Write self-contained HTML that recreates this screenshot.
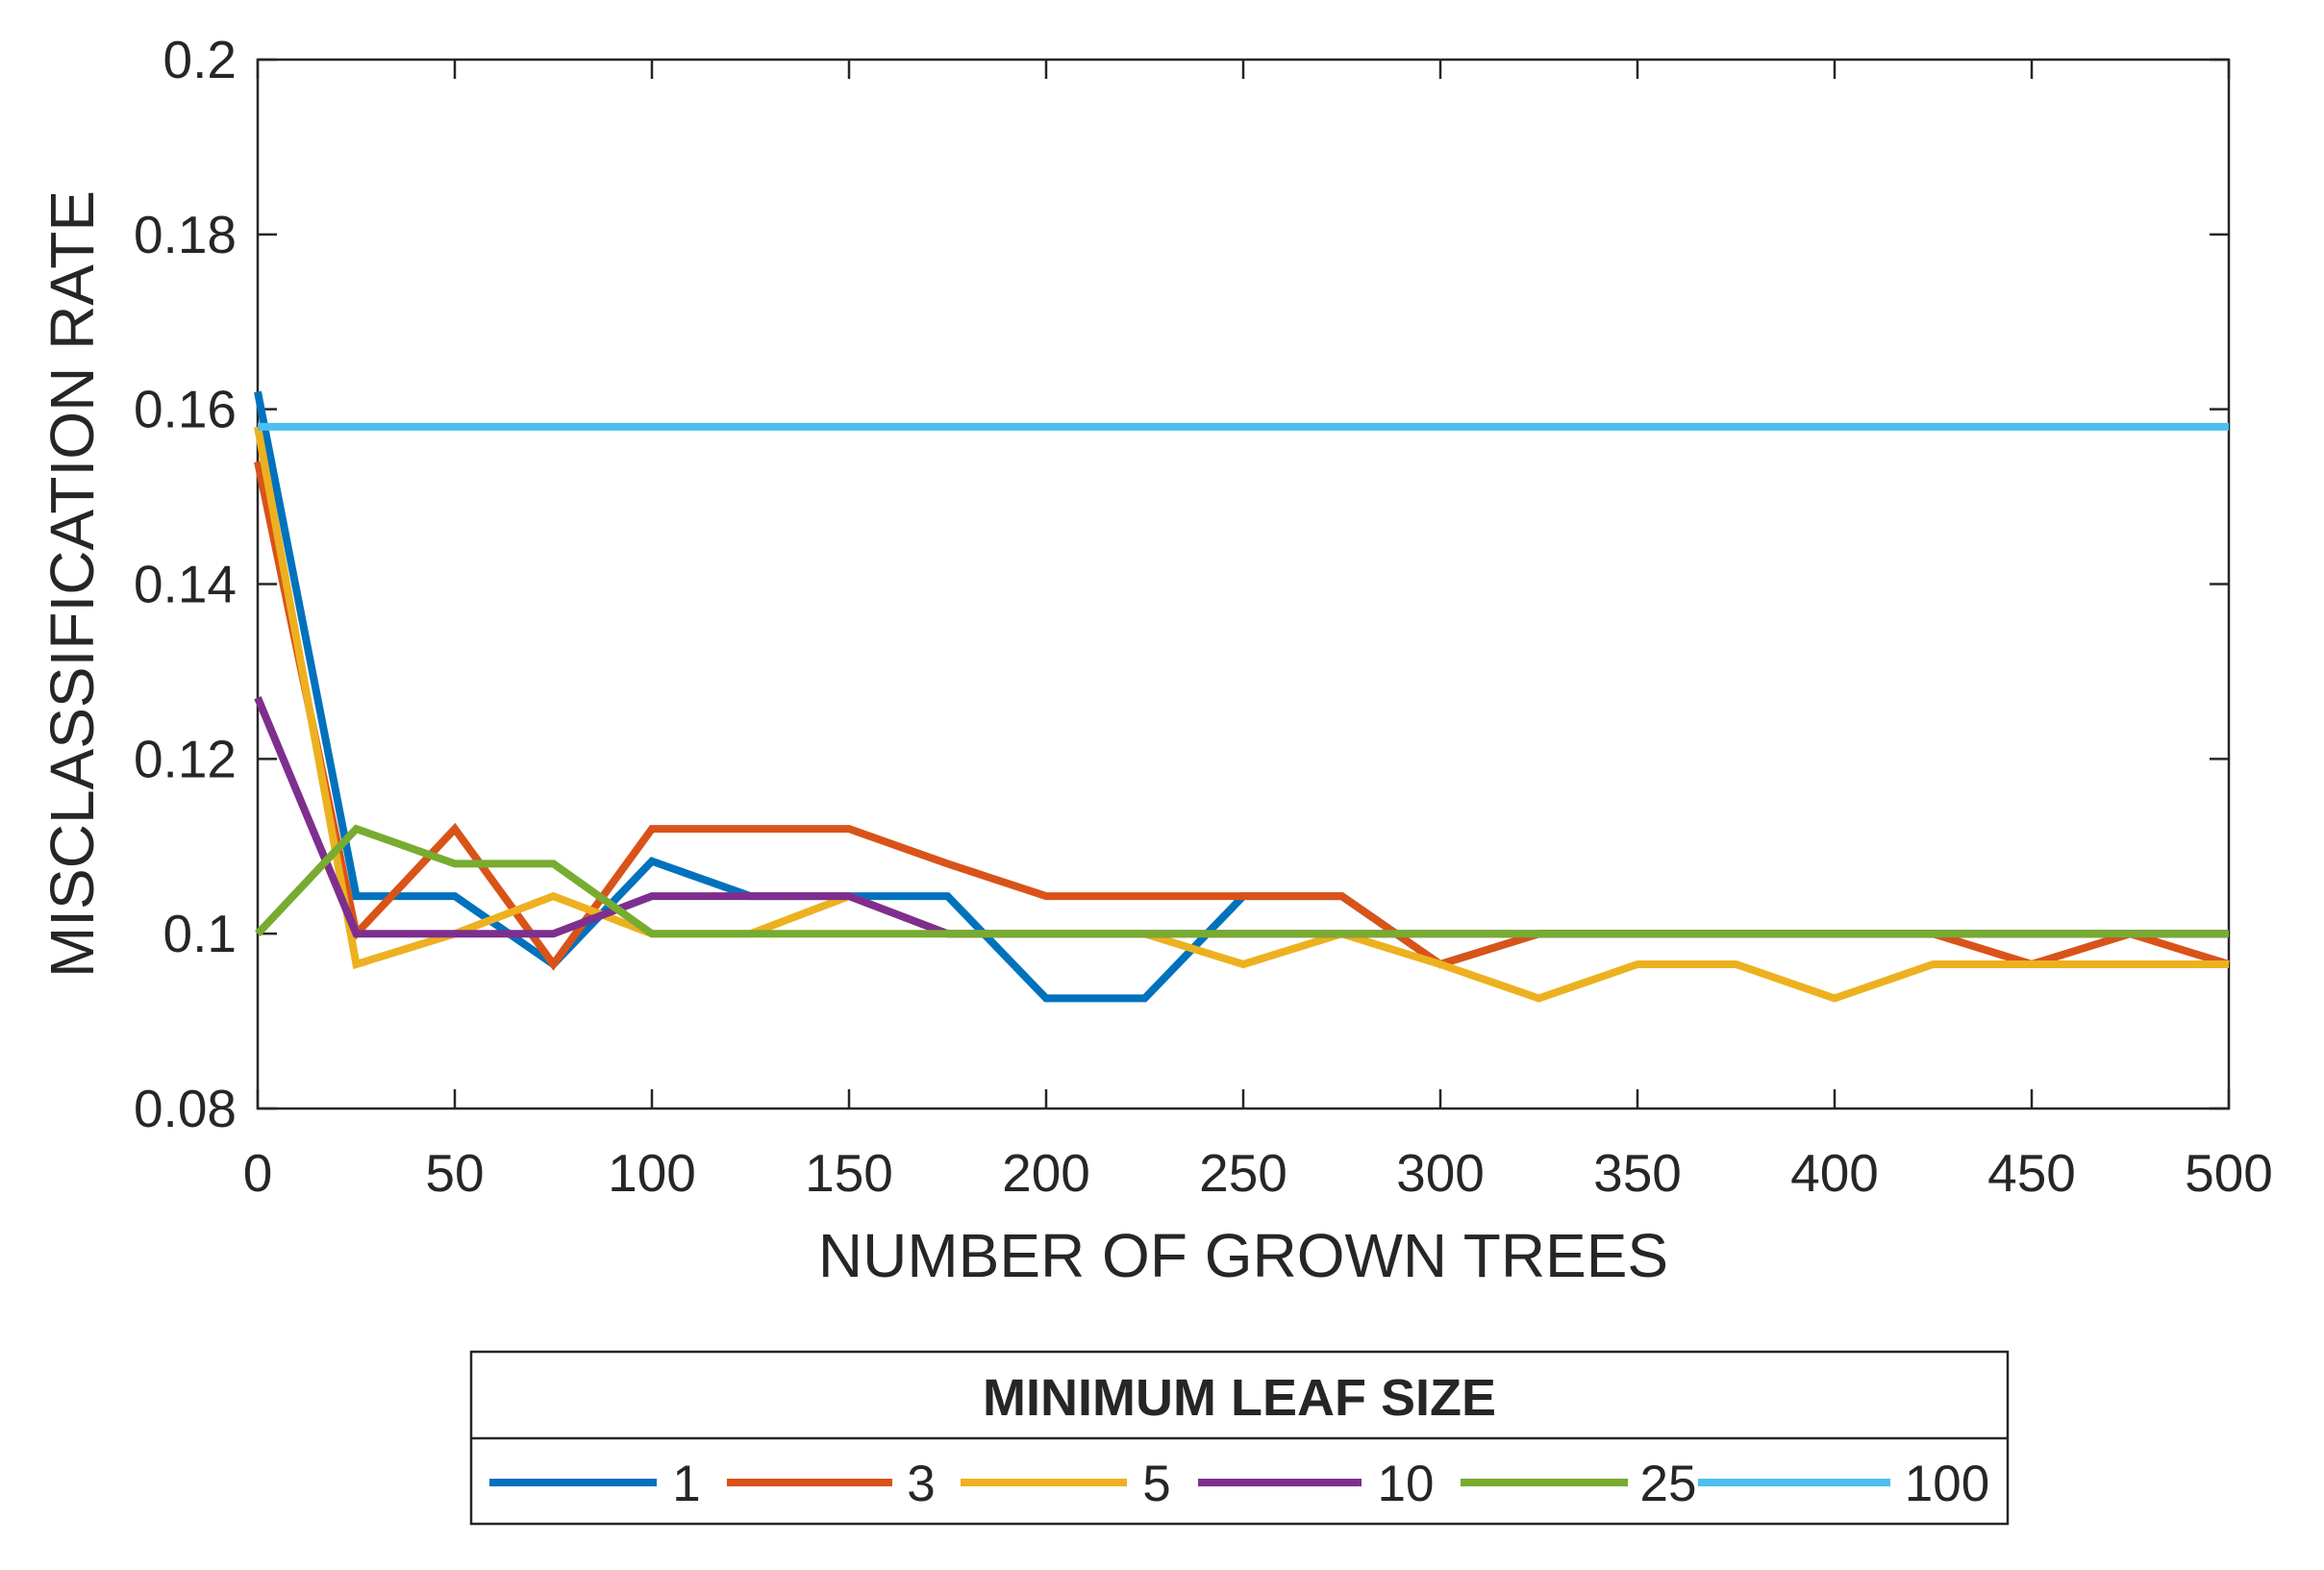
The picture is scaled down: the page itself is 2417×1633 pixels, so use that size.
<!DOCTYPE html>
<html><head><meta charset="utf-8"><style>
html,body{margin:0;padding:0;background:#fff}
svg{display:block}
text{font-family:"Liberation Sans",sans-serif;fill:#262626}
</style></head><body>
<svg id="chart" width="2417" height="1633" viewBox="0 0 2417 1633"></svg>
<script>
const xValues=[0,25,50,75,100,125,150,175,200,225,250,275,300,325,350,375,400,425,450,475,500];
const leaf1=[0.162,0.1043,0.1043,0.0965,0.1083,0.1043,0.1043,0.1043,0.0926,0.0926,0.1043,0.1043,0.0965,0.1,0.1,0.1,0.1,0.1,0.1,0.1,0.1];
const leaf3=[0.154,0.1,0.112,0.0965,0.112,0.112,0.112,0.108,0.1043,0.1043,0.1043,0.1043,0.0965,0.1,0.1,0.1,0.1,0.1,0.0965,0.1,0.0965];
const leaf5=[0.158,0.0965,0.1,0.1043,0.1,0.1,0.1043,0.1,0.1,0.1,0.0965,0.1,0.0965,0.0926,0.0965,0.0965,0.0926,0.0965,0.0965,0.0965,0.0965];
const leaf10=[0.127,0.1,0.1,0.1,0.1043,0.1043,0.1043,0.1,0.1,0.1,0.1,0.1,0.1,0.1,0.1,0.1,0.1,0.1,0.1,0.1,0.1];
const leaf25=[0.1,0.112,0.108,0.108,0.1,0.1,0.1,0.1,0.1,0.1,0.1,0.1,0.1,0.1,0.1,0.1,0.1,0.1,0.1,0.1,0.1];
const leaf100=[0.158,0.158,0.158,0.158,0.158,0.158,0.158,0.158,0.158,0.158,0.158,0.158,0.158,0.158,0.158,0.158,0.158,0.158,0.158,0.158,0.158];
const seriesNames=["1","3","5","10","25","100"];
const xTicks=[0,50,100,150,200,250,300,350,400,450,500];
const yTicks=[0.08,0.1,0.12,0.14,0.16,0.18,0.2];
const yTickLabels=["0.08","0.1","0.12","0.14","0.16","0.18","0.2"];

const NS="http://www.w3.org/2000/svg";
const svg=document.getElementById('chart');
const L=268,R=2318,T=62,B=1153;
const xs=v=>L+(v-0)/(500-0)*(R-L);
const ys=v=>B-(v-0.08)/(0.2-0.08)*(B-T);
function mk(tag,attrs,parent){const e=document.createElementNS(NS,tag);for(const k in attrs)e.setAttribute(k,attrs[k]);(parent||svg).appendChild(e);return e;}
const colors=["#0072BD","#D95319","#EDB120","#7E2F8E","#77AC30","#4DBEEE"];
const series=[leaf1,leaf3,leaf5,leaf10,leaf25,leaf100];

const box=mk('rect',{x:L,y:T,width:R-L,height:B-T,fill:'none',stroke:'#262626','stroke-width':2.5});



xTicks.forEach(v=>{
  const x=xs(v);
  mk('line',{x1:x,y1:B,x2:x,y2:B-20,stroke:'#262626','stroke-width':2.5});
  mk('line',{x1:x,y1:T,x2:x,y2:T+20,stroke:'#262626','stroke-width':2.5});
  const t=mk('text',{x:x,y:B+86,'font-size':55,'text-anchor':'middle'});
  t.textContent=v;
  
  
});
yTicks.forEach((v,i)=>{
  const y=ys(v);
  mk('line',{x1:L,y1:y,x2:L+20,y2:y,stroke:'#262626','stroke-width':2.5});
  mk('line',{x1:R,y1:y,x2:R-20,y2:y,stroke:'#262626','stroke-width':2.5});
  const t=mk('text',{x:L-22,y:y+19,'font-size':55,'text-anchor':'end'});
  t.textContent=yTickLabels[i];
  
  
});

series.forEach((s,i)=>{
  const d=s.map((v,j)=>(j?'L':'M')+xs(xValues[j]).toFixed(1)+','+ys(v).toFixed(1)).join(' ');
  const p=mk('path',{d:d,fill:'none',stroke:colors[i],'stroke-width':8,'stroke-linejoin':'miter'});
  
  
});

const xt=mk('text',{x:(L+R)/2,y:1328,'font-size':64,'text-anchor':'middle'});
xt.textContent='NUMBER OF GROWN TREES';


const yt=mk('text',{x:0,y:0,'font-size':64,'text-anchor':'middle',transform:'translate(97,'+((T+B)/2)+') rotate(-90)'});
yt.textContent='MISCLASSIFICATION RATE';



const lg=mk('g',{});


mk('rect',{x:490,y:1406,width:1598,height:179,fill:'#fff',stroke:'#262626','stroke-width':2.5},lg);
mk('line',{x1:490,y1:1496,x2:2088,y2:1496,stroke:'#262626','stroke-width':2.5},lg);
const lt=mk('text',{x:1289,y:1472,'font-size':54,'font-weight':'bold','text-anchor':'middle',fill:'#000'},lg);
lt.textContent='MINIMUM LEAF SIZE';


const lineX=[[509,683],[756,928],[999,1172],[1246,1416],[1519,1693],[1766,1966]];
const labX=[714,958,1203,1462,1735,2025];
seriesNames.forEach((n,i)=>{
  const g=mk('g',{},lg);
  
  
  mk('line',{x1:lineX[i][0],y1:1542,x2:lineX[i][1],y2:1542,stroke:colors[i],'stroke-width':8},g);
  const t=mk('text',{x:labX[i],y:1561,'font-size':53,'text-anchor':'middle'},g);
  t.textContent=n;
});
</script>
</body></html>
